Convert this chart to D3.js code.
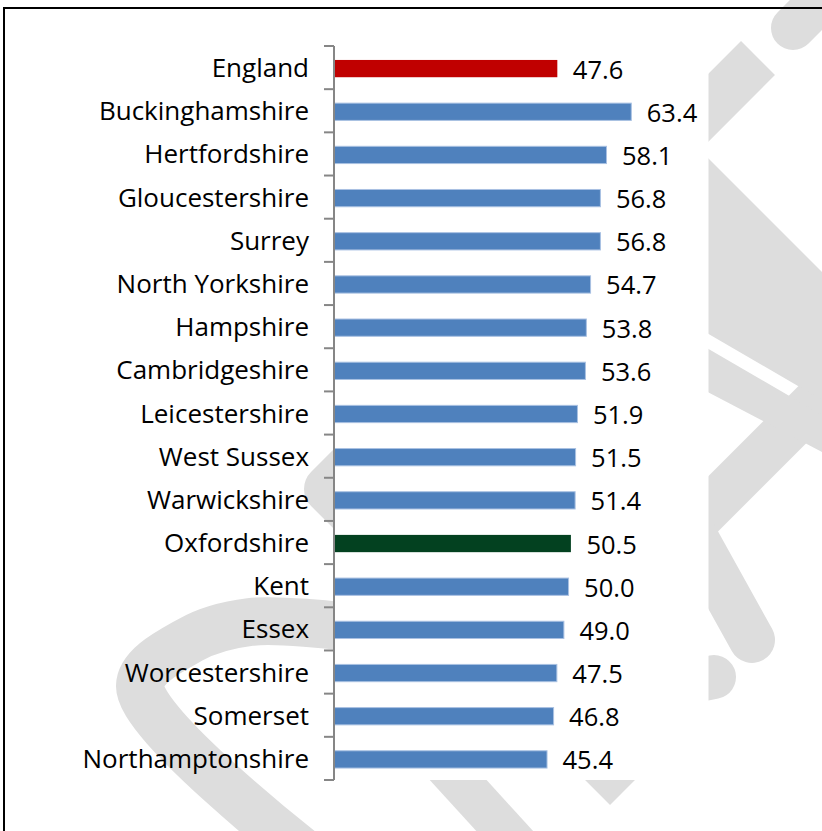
<html>
  <head>
    <title>Chart</title>
    <script type="text/javascript" src="https://cdn.jsdelivr.net/npm/d3@7"></script>
    <style type="text/css">
      body { margin: 0; background: #fff; }
      .label { font-family: "Open Sans", "Noto Sans", sans-serif; fill: #000; }
    </style>
  </head>
  <body>
    <div id="chart-container"></div>
    <script type="text/javascript">
      var categories = ["England", "Buckinghamshire", "Hertfordshire", "Gloucestershire", "Surrey",
          "North Yorkshire", "Hampshire", "Cambridgeshire", "Leicestershire", "West Sussex",
          "Warwickshire", "Oxfordshire", "Kent", "Essex", "Worcestershire", "Somerset", "Northamptonshire"];
      var values = [47.6, 63.4, 58.1, 56.8, 56.8, 54.7, 53.8, 53.6, 51.9, 51.5, 51.4, 50.5, 50.0, 49.0, 47.5, 46.8, 45.4];
      var axisMax = 80;

      var w = 822, h = 831;
      var colour = function(name) {
          if (name == "England") return "#c00000";
          if (name == "Oxfordshire") return "#034120";
          return "#4f81bd";
      };

      // grey "draft" watermark pieces behind the chart (decoration only)
      var watermark = [
          {pts: [[793, 28], [850, -29]], width: 44, cap: "round"},
          {pts: [[758, 58], [328, 489], [627, 788]], width: 48, cap: "butt"},
          {pts: [[300, 850], [140, 686], [190, 640], [250, 622], [340, 626]], width: 48, cap: "butt", curve: true},
          {pts: [[690, 527], [840, 377]], width: 46, cap: "butt"},
          {pts: [[692, 532], [752, 640]], width: 46, cap: "round"},
          {pts: [[650, 690], [714, 677]], width: 44, cap: "round"},
          {pts: [[440, 760], [522, 850]], width: 42, cap: "butt"}
      ];
      var watermarkAreas = [
          [[700, 150], [822, 272], [822, 400], [700, 329]],
          [[700, 344], [822, 415], [822, 452], [700, 388]]
      ];

      var svg = d3.select("#chart-container").append("svg")
          .attr("width", w)
          .attr("height", h);

      var x = d3.scaleLinear().domain([0, axisMax]).range([334, 708.5]);
      var y = d3.scaleBand().domain(categories).range([46, 780])
          .paddingInner(0.6).paddingOuter(0.3);

      var wm = svg.append("g");
      wm.selectAll("path.stroke").data(watermark).enter().append("path")
          .attr("class", "stroke")
          .attr("d", function(d) {
              var line = d3.line().curve(d.curve ? d3.curveCatmullRom : d3.curveLinear);
              return line(d.pts);
          })
          .attr("fill", "none")
          .attr("stroke", "#dddddd")
          .attr("stroke-width", function(d) { return d.width; })
          .attr("stroke-linecap", function(d) { return d.cap; })
          .attr("stroke-linejoin", "round");
      wm.selectAll("path.area").data(watermarkAreas).enter().append("path")
          .attr("class", "area")
          .attr("d", function(d) { return d3.line()(d) + "Z"; })
          .attr("fill", "#dddddd");

      // plot area hides the watermark
      svg.append("rect")
          .attr("x", x(0)).attr("y", 46)
          .attr("width", x(axisMax) - x(0)).attr("height", 734)
          .attr("fill", "#fff");

      // outer border
      svg.append("rect")
          .attr("x", 4).attr("y", 8)
          .attr("width", 840).attr("height", 850)
          .attr("fill", "none").attr("stroke", "#000").attr("stroke-width", 2);

      var rowY = function(d) { return y(d) + y.bandwidth() / 2; };

      svg.selectAll("rect.bar").data(categories).enter().append("rect")
          .attr("class", "bar")
          .attr("x", x(0) + 0.5)
          .attr("y", function(d) { return y(d) + 1; })
          .attr("width", function(d, i) { return x(values[i]) - x(0); })
          .attr("height", y.bandwidth())
          .attr("fill", colour)
          .attr("stroke", function(d) { return d == "England" || d == "Oxfordshire" ? "none" : "#a9c1e2"; })
          .attr("stroke-width", 1);

      // category axis with ticks between bars
      var axis = svg.append("g");
      axis.append("line")
          .attr("x1", x(0)).attr("x2", x(0))
          .attr("y1", 46).attr("y2", 780)
          .attr("stroke", "#868686").attr("stroke-width", 2);
      axis.selectAll("line.tick").data(d3.range(categories.length + 1)).enter().append("line")
          .attr("class", "tick")
          .attr("x1", x(0) - 10).attr("x2", x(0))
          .attr("y1", function(i) { return 46 + i * y.step(); })
          .attr("y2", function(i) { return 46 + i * y.step(); })
          .attr("stroke", "#868686").attr("stroke-width", 2);

      svg.selectAll("text.cat").data(categories).enter().append("text")
          .attr("class", "label cat")
          .attr("x", 309)
          .attr("y", function(d) { return rowY(d) + 9.5; })
          .attr("text-anchor", "end")
          .attr("font-size", 26)
          .text(function(d) { return d; });

      svg.selectAll("text.val").data(categories).enter().append("text")
          .attr("class", "label val")
          .attr("x", function(d, i) { return x(values[i]) + 16; })
          .attr("y", function(d) { return rowY(d) + 11; })
          .attr("font-size", 25.5)
          .text(function(d, i) { return values[i].toFixed(1); });
    </script>
  </body>
</html>
